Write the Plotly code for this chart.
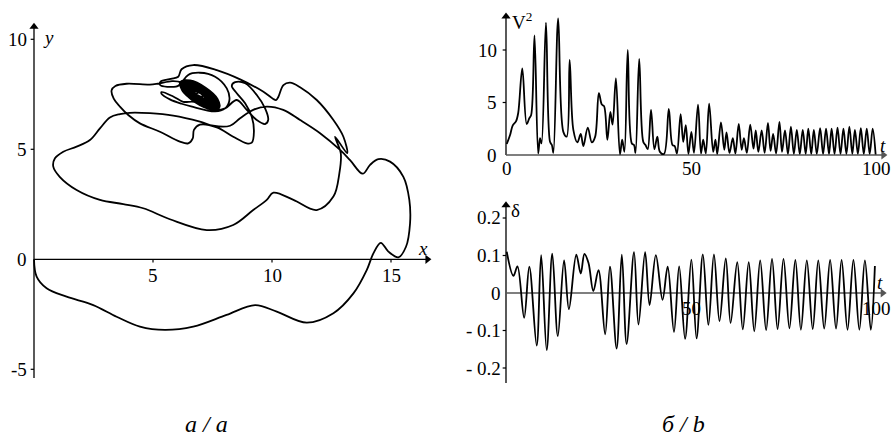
import plotly.graph_objects as go

# ---------- (a) trajectory of the body in the plane ----------
traj_x = [
    0.0, 0.11, 0.53, 1.37, 2.49, 3.47, 4.45, 5.5, 6.69, 8.09, 9.29, 10.2, 11.46, 12.58,
    13.42, 13.98, 14.26, 14.57, 14.89, 15.31, 15.63, 15.80, 15.77, 15.52, 14.96, 14.47,
    14.12, 13.81,
    13.28, 12.86, 12.02, 11.18, 10.47, 9.78, 9.21, 8.66, 8.24, 7.53, 6.97, 5.85, 4.87,
    4.03, 3.61,
    3.19, 2.77, 2.35, 1.79, 1.23, 0.88, 0.81, 1.08, 1.79, 2.77, 3.75, 4.59, 5.71, 7.26,
    8.37, 9.21, 9.78, 10.06, 10.9, 11.88, 12.58, 12.83, 12.89, 12.65,
    13.16, 13.0, 12.58, 11.88, 11.18, 10.76, 10.48, 10.27, 10.17, 9.64, 8.66, 7.68, 6.69,
    6.2, 6.06,
    5.75, 5.32, 5.30, 5.60, 6.08, 6.12, 5.80, 5.2, 4.87, 3.89, 3.42, 3.26, 3.35, 3.62, 3.96,
    4.45, 5.29, 6.13, 6.48, 6.67, 6.72, 6.97, 7.68, 8.37, 8.94, 9.15, 9.24, 9.15, 8.87,
    8.52, 8.31, 8.45, 8.87, 9.36, 9.71, 9.84, 9.71, 9.36, 8.94, 8.52,
    8.03, 7.61, 6.97, 6.41, 6.21, 6.48, 6.97, 7.61, 8.10, 8.21, 8.03, 7.61,
    6.60, 6.20, 5.71, 5.36, 5.36, 5.85, 6.27,
    6.73, 7.38, 7.78, 7.71, 7.21, 6.56, 6.16, 6.23,
    6.74, 7.36, 7.74, 7.67, 7.20, 6.58, 6.20, 6.27,
    6.75, 7.34, 7.70, 7.64, 7.19, 6.60, 6.24, 6.30,
    6.77, 7.32, 7.66, 7.60, 7.17, 6.62, 6.28, 6.34,
    6.78, 7.30, 7.62, 7.56, 7.16, 6.64, 6.32, 6.38,
    6.79, 7.28, 7.58, 7.53, 7.15, 6.66, 6.36, 6.41,
    6.80, 7.26, 7.54, 7.49, 7.14, 6.68, 6.40, 6.45,
    6.81, 7.24, 7.50, 7.45, 7.13, 6.70, 6.44, 6.49,
    6.83, 7.22, 7.46, 7.41, 7.11, 6.72, 6.48, 6.53,
    6.84, 7.20, 7.42, 7.38, 7.10, 6.74, 6.52, 6.56,
    6.85, 7.18, 7.38, 7.34, 7.09, 6.76, 6.56, 6.60,
    6.86, 7.15, 7.33, 7.30, 7.08, 6.79, 6.61, 6.64,
    6.87, 7.13, 7.29, 7.27, 7.07, 6.81, 6.65, 6.67,
    6.89, 7.11, 7.25, 7.23, 7.05, 6.83, 6.69, 6.71,
    6.90, 7.09, 7.21, 7.19, 7.04, 6.85, 6.73, 6.75,
    6.91, 7.07, 7.17, 7.16, 7.03, 6.87, 6.77, 6.78,
    6.93, 7.03, 7.09, 7.08, 7.01, 6.91, 6.85, 6.86,
]
traj_y = [
    0.0, -0.79, -1.32, -1.70, -2.08, -2.61, -3.06, -3.21, -3.06, -2.53, -2.08, -2.38, -2.88,
    -2.45, -1.55, -0.49, 0.27, 0.75, 0.35, 0.09, 0.57, 1.63, 2.70, 3.75, 4.44, 4.55, 4.29,
    3.89,
    4.51, 4.97, 5.73, 6.33, 6.79, 6.94, 6.79, 6.41, 6.07, 6.07, 6.26, 6.53, 6.64, 6.66, 6.60,
    6.45, 5.95, 5.42, 5.12, 4.89, 4.59, 4.21, 3.75, 3.15, 2.70, 2.51, 2.32, 1.82, 1.33,
    1.56, 2.24, 2.70, 3.03, 2.70, 2.24, 2.85, 3.91, 4.82, 5.57,
    4.82, 5.57, 6.33, 7.24, 7.82, 8.03, 7.92, 7.39, 7.24, 7.62, 8.18, 8.60, 8.83, 8.64, 8.30,
    8.20, 8.08, 7.92, 7.84, 7.90, 8.05, 8.10, 7.98, 7.94, 7.98, 7.88, 7.68, 7.30, 6.93, 6.56,
    6.18, 5.80, 5.35, 5.27, 5.50, 5.88, 6.12, 6.00, 5.57, 5.27, 5.30, 5.80, 6.48, 7.09,
    7.55, 7.88, 8.05, 8.00, 7.47, 6.86, 6.33, 6.15, 6.33, 6.79, 7.24,
    6.86, 6.79, 7.01, 7.47, 7.92, 8.38, 8.48, 8.30, 7.77, 7.24, 6.86, 6.72,
    6.95, 7.07, 7.27, 7.52, 7.60, 7.40, 7.16,
    7.16, 6.83, 6.89, 7.29, 7.80, 8.13, 8.07, 7.67,
    7.18, 6.86, 6.92, 7.30, 7.78, 8.10, 8.04, 7.66,
    7.19, 6.89, 6.95, 7.31, 7.77, 8.07, 8.01, 7.65,
    7.21, 6.93, 6.98, 7.32, 7.75, 8.03, 7.98, 7.64,
    7.22, 6.96, 7.01, 7.33, 7.74, 8.00, 7.95, 7.63,
    7.24, 6.99, 7.04, 7.34, 7.72, 7.97, 7.92, 7.62,
    7.26, 7.02, 7.07, 7.35, 7.70, 7.94, 7.89, 7.61,
    7.27, 7.06, 7.10, 7.36, 7.69, 7.90, 7.86, 7.60,
    7.29, 7.09, 7.13, 7.37, 7.67, 7.87, 7.83, 7.59,
    7.30, 7.12, 7.16, 7.38, 7.66, 7.84, 7.80, 7.58,
    7.32, 7.15, 7.18, 7.38, 7.64, 7.81, 7.78, 7.58,
    7.34, 7.19, 7.21, 7.39, 7.62, 7.77, 7.75, 7.57,
    7.35, 7.22, 7.24, 7.40, 7.61, 7.74, 7.72, 7.56,
    7.37, 7.25, 7.27, 7.41, 7.59, 7.71, 7.69, 7.55,
    7.38, 7.28, 7.30, 7.42, 7.58, 7.68, 7.66, 7.54,
    7.40, 7.32, 7.33, 7.43, 7.56, 7.64, 7.63, 7.53,
    7.43, 7.38, 7.39, 7.45, 7.53, 7.58, 7.57, 7.51,
]

# ---------- (b) squared speed V^2(t) ----------
t_v = [
    0.2, 1.1, 1.8, 2.7, 3.3, 4.4, 5.6, 6.3, 6.8, 7.7, 8.7, 9.2, 9.6, 10.8, 11.9, 12.4, 12.8,
    14.1, 15.5, 16.4, 17.2, 18.2, 19.3, 20.2, 20.9, 22.1, 23.2, 24.1, 25.1, 25.9, 26.5, 27.4,
    28.2, 28.8, 29.7, 30.8, 31.4, 32.0, 32.9, 34.0, 34.6, 35.0, 36.0, 37.1, 37.7, 38.3, 39.2,
    40.1, 40.9, 41.6, 42.7, 44.0, 45.0, 45.6, 46.2, 47.2, 47.9, 48.6, 49.3, 50.1, 50.8, 51.9,
    52.7, 53.3, 54.0, 54.9, 56.0, 56.6, 57.1, 58.1, 59.0, 59.6, 60.4, 61.3, 62.0, 62.9, 63.7,
    64.3, 65.1, 66.0, 66.9, 67.5, 68.2, 69.1, 69.9, 70.8, 71.5, 72.2, 73.0, 73.9, 74.6, 75.4,
    76.2, 77.0, 77.8, 78.6, 79.4, 80.2, 81.0, 81.7, 82.5, 83.2, 84.0, 84.9, 85.7, 86.5, 87.3,
    88.0, 88.8, 89.6, 90.4, 91.2, 92.0, 92.8, 93.6, 94.3, 95.1, 95.9, 96.7, 97.5, 98.3, 99.1,
    99.9,
]
v2 = [
    1.05, 1.9, 2.8, 3.2, 4.0, 8.25, 2.95, 3.5, 3.8, 11.4, 0.15, 1.6, 1.1, 12.6, 1.25, 0.95, 0.2,
    13.0, 2.2, 1.75, 9.05, 2.4, 1.2, 2.0, 0.85, 2.6, 1.2, 1.75, 5.9, 4.8, 4.65, 1.45,
    4.1, 2.9, 7.3, 0.05, 1.45, 0.3, 10.0, 1.1, 0.95, 0.2, 9.15, 1.25, 0.95, 0.55, 4.3,
    0.55, 1.75, 0.3, 0.1, 4.4, 0.95, 0.85, 0.15, 3.9, 1.25, 2.85, 0.1, 2.2, 0.2, 4.8,
    0.15, 1.45, 0.15, 4.9, 0.3, 1.45, 0.1, 3.1, 0.5, 2.15, 0.2, 1.6, 0.15, 2.95, 0.5,
    1.6, 0.2, 2.9, 0.6, 2.35, 0.3, 2.35, 0.2, 3.05, 0.4, 2.0, 0.15, 3.15, 0.3, 2.35,
    0.1, 2.7, 0.1, 2.4, 0.1, 2.4, 0.1, 2.5, 0.1, 2.4, 0.1, 2.55, 0.1, 2.5, 0.1,
    2.5, 0.1, 2.6, 0.1, 2.5, 0.1, 2.7, 0.1, 2.4, 0.1, 2.55, 0.1, 2.5, 0.1, 2.5,
    0.05,
]

# ---------- (b) angle delta(t) ----------
t_d = [
    0.2, 2.0, 3.1, 4.9, 6.3, 8.3, 9.5, 11.0, 12.5, 14.0, 15.7, 17.0, 19.0, 20.2, 21.2, 22.3,
    23.6, 25.0, 26.8, 28.1, 29.9, 31.3, 32.6, 34.6, 35.8, 37.6, 38.8, 40.5, 42.3, 43.7, 45.4,
    46.8, 48.4, 50.1, 51.5, 53.2, 54.7, 56.2, 57.7, 59.4, 60.7, 62.5, 64.0, 65.6, 67.1, 68.7,
    70.3, 71.9, 73.4, 75.0, 76.6, 78.2, 79.7, 81.3, 82.9, 84.4, 86.0, 87.6, 89.2, 90.7, 92.3,
    93.9, 95.5, 97.0, 98.6, 99.7,
]
delta = [
    0.110, 0.046, 0.071, -0.066, 0.070, -0.140, 0.101, -0.152, 0.105, -0.115, 0.087, -0.043,
    0.102, 0.052, 0.104, 0.080, 0.005, 0.061, -0.110, 0.070, -0.148, 0.102, -0.136, 0.109,
    -0.084, 0.109, -0.032, 0.101, -0.018, 0.070, -0.104, 0.071, -0.122, 0.089, -0.121, 0.103,
    -0.085, 0.103, -0.075, 0.092, -0.080, 0.082, -0.097, 0.082, -0.102, 0.087, -0.099, 0.091,
    -0.096, 0.091, -0.094, 0.088, -0.098, 0.087, -0.096, 0.087, -0.095, 0.088, -0.095, 0.088,
    -0.098, 0.088, -0.098, 0.087, -0.098, 0.072,
]

# tick labels
xy_yticks = [10, 5, 0, -5]
xy_xticks = [5, 10, 15]
v2_yticks = [10, 5, 0]
t_ticks = [0, 50, 100]
d_yticks = [0.2, 0.1, 0, -0.1, -0.2]
d_ylabels = ["0.2", "0.1", "0", "- 0.1", "- 0.2"]

W, H = 891, 437
SERIF = "Liberation Serif, Times New Roman, serif"
INK = "black"
GREY = "#555555"

fig = go.Figure()
line_style = dict(color=INK, width=1.8, shape="spline", smoothing=1.0)
fig.add_trace(go.Scatter(x=traj_x, y=traj_y, mode="lines", line=line_style,
                         xaxis="x", yaxis="y", hoverinfo="skip"))
fig.add_trace(go.Scatter(x=t_v, y=v2, mode="lines", line=line_style,
                         xaxis="x2", yaxis="y2", hoverinfo="skip"))
fig.add_trace(go.Scatter(x=t_d, y=delta, mode="lines", line=line_style,
                         xaxis="x3", yaxis="y3", hoverinfo="skip"))

shapes = []
annotations = []


def seg(xr, yr, x0, y0, x1, y1, color=INK, width=1.2):
    shapes.append(dict(type="line", xref=xr, yref=yr, x0=x0, y0=y0, x1=x1, y1=y1,
                       line=dict(color=color, width=width), layer="below"))


def head(xa, ya, x, y, symbol, color=INK):
    fig.add_trace(go.Scatter(x=[x], y=[y], mode="markers", xaxis=xa, yaxis=ya,
                             marker=dict(symbol=symbol, size=8, color=color, line=dict(width=0)),
                             hoverinfo="skip"))


def label(xr, yr, x, y, text, xanchor="center", size=19, italic=False):
    annotations.append(dict(
        x=x, y=y, xref=xr, yref=yr, text=f"<i>{text}</i>" if italic else text,
        showarrow=False, xanchor=xanchor, yanchor="middle",
        font=dict(family=SERIF, size=size, color=INK)))


# --- panel (a) axes
seg("x", "y", 0, -5.4, 0, 10.6, width=1.3)
seg("x", "y", 0, 0, 16.55, 0, width=1.3)
head("x", "y", 0, 10.57, "triangle-up")
head("x", "y", 16.53, 0, "triangle-right")
for v in xy_yticks:
    if v != 0:
        seg("x", "y", -0.14, v, 0, v)
    label("x", "y", -0.2, v, str(v), xanchor="right")
for v in xy_xticks:
    seg("x", "y", v, 0, v, -0.15)
    label("x", "y", v, -0.74, str(v))
label("x", "y", 0.3, 10.1, "y", xanchor="left", italic=True)
label("x", "y", 16.34, 0.47, "x", italic=True)

# --- panel (b) top: V^2
seg("x2", "y2", 0, 0, 0, 13.2, width=1.3)
seg("x2", "y2", 0, 0, 102.0, 0, color=GREY, width=1.6)
head("x2", "y2", 0, 13.2, "triangle-up")
head("x2", "y2", 102.0, 0, "triangle-right", color=GREY)
for v in v2_yticks:
    if v != 0:
        seg("x2", "y2", -0.9, v, 0, v)
    label("x2", "y2", -2.0, v, str(v), xanchor="right")
for v in t_ticks:
    label("x2", "y2", v + 0.3 if v == 0 else v, -1.24, str(v))
label("x2", "y2", 1.1, 12.8, "V<sup>2</sup>", xanchor="left")
label("x2", "y2", 101.9, 0.86, "t", italic=True)

# --- panel (b) bottom: delta
seg("x3", "y3", 0, -0.24, 0, 0.234, width=1.3)
seg("x3", "y3", 0, 0, 101.8, 0, color=GREY, width=1.6)
head("x3", "y3", 0, 0.234, "triangle-up")
head("x3", "y3", 101.8, 0, "triangle-right", color=GREY)
for v, s in zip(d_yticks, d_ylabels):
    if v != 0:
        seg("x3", "y3", -0.9, v, 0, v)
    label("x3", "y3", -0.8, v, s, xanchor="right")
for v in t_ticks[1:]:
    label("x3", "y3", v, -0.04, str(v))
label("x3", "y3", 2.7, 0.219, "δ")
label("x3", "y3", 101.1, 0.029, "t", italic=True)

# --- panel captions
for xc, txt in [(206, "а / a"), (683, "б / b")]:
    annotations.append(dict(
        x=xc / W, y=1 - 424 / H, xref="paper", yref="paper", text=f"<i>{txt}</i>",
        showarrow=False, xanchor="center", yanchor="middle",
        font=dict(family=SERIF, size=24, color=INK)))

top_split = 190 / H


def hidden(rng, dom, anchor):
    return dict(range=rng, domain=dom, visible=False, fixedrange=True, anchor=anchor)


fig.update_layout(
    width=W, height=H, autosize=False,
    margin=dict(l=0, r=0, t=0, b=0, pad=0),
    paper_bgcolor="white", plot_bgcolor="white",
    showlegend=False,
    font=dict(family=SERIF, color=INK),
    xaxis=hidden([-34 / 23.8, (440 - 34) / 23.8], [0, 440 / W], "y"),
    yaxis=hidden([(259.3 - H) / 22.0, 259.3 / 22.0], [0, 1], "x"),
    xaxis2=hidden([(480 - 506) / 3.7, (W - 506) / 3.7], [480 / W, 1], "y2"),
    yaxis2=hidden([(155 - 190) / 10.5, 155 / 10.5], [1 - top_split, 1], "x2"),
    xaxis3=hidden([(480 - 506) / 3.7, (W - 506) / 3.7], [480 / W, 1], "y3"),
    yaxis3=hidden([(293 - H) / 375.0, (293 - 190) / 375.0], [0, 1 - top_split], "x3"),
    shapes=shapes,
    annotations=annotations,
)

fig.write_html("out.html")
